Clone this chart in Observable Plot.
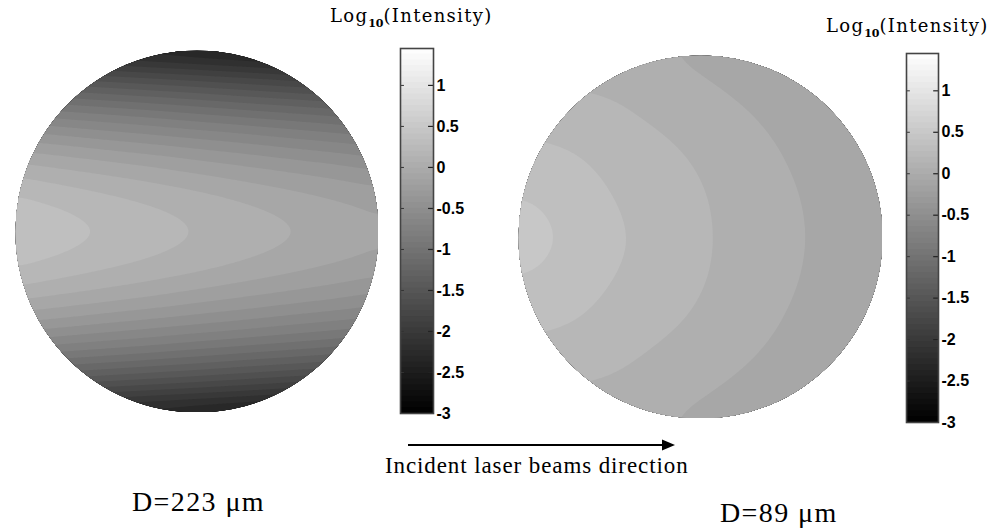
<!DOCTYPE html>
<html>
<head>
<meta charset="utf-8">
<script src="https://cdn.jsdelivr.net/npm/d3@7"></script>
<script src="https://cdn.jsdelivr.net/npm/@observablehq/plot@0.6"></script>
<style>
  html, body { margin: 0; padding: 0; background: #fff; }
  #page { position: relative; width: 1006px; height: 529px; overflow: hidden; background: #fff; }
  .abs { position: absolute; }
  #overlay { position: absolute; left: 0; top: 0; pointer-events: none; }
  .serif { font-family: "Liberation Serif", "Times New Roman", Times, serif; }
  .wide { font-family: "DejaVu Serif", serif; }
  .cbl text { font-family: "Liberation Sans", Arial, Helvetica, sans-serif !important; font-weight: bold; }
</style>
</head>
<body>
<div id="page"></div>
<script>
// ---------------- DATA ----------------
// log10(intensity) samples, columns x = -1 .. 1 step 0.25 (beam direction to the right)
const gridX = [-1, -0.75, -0.5, -0.25, 0, 0.25, 0.5, 0.75, 1];

// Left sphere, D = 223 µm : rows y = +1 .. -1 step 0.125
const leftRowsY = [1, 0.875, 0.75, 0.625, 0.5, 0.375, 0.25, 0.125, 0, -0.125, -0.25, -0.375, -0.5, -0.625, -0.75, -0.875, -1];
const leftRows = [
  [-2.15, -2.21, -2.28, -2.34, -2.40, -2.46, -2.53, -2.59, -2.65],
  [-1.54, -1.60, -1.67, -1.73, -1.79, -1.85, -1.92, -1.98, -2.04],
  [-1.01, -1.08, -1.14, -1.20, -1.26, -1.33, -1.39, -1.45, -1.51],
  [-0.57, -0.63, -0.69, -0.75, -0.82, -0.88, -0.94, -1.00, -1.07],
  [-0.20, -0.26, -0.33, -0.39, -0.45, -0.51, -0.58, -0.64, -0.70],
  [ 0.08,  0.02, -0.04, -0.10, -0.17, -0.23, -0.29, -0.35, -0.42],
  [ 0.29,  0.22,  0.16,  0.10,  0.04, -0.03, -0.09, -0.15, -0.21],
  [ 0.41,  0.35,  0.28,  0.22,  0.16,  0.10,  0.03, -0.03, -0.09],
  [ 0.45,  0.39,  0.33,  0.26,  0.20,  0.14,  0.08,  0.01, -0.05],
  [ 0.41,  0.35,  0.28,  0.22,  0.16,  0.10,  0.03, -0.03, -0.09],
  [ 0.29,  0.22,  0.16,  0.10,  0.04, -0.03, -0.09, -0.15, -0.21],
  [ 0.08,  0.02, -0.04, -0.10, -0.17, -0.23, -0.29, -0.35, -0.42],
  [-0.20, -0.26, -0.33, -0.39, -0.45, -0.51, -0.58, -0.64, -0.70],
  [-0.57, -0.63, -0.69, -0.75, -0.82, -0.88, -0.94, -1.00, -1.07],
  [-1.01, -1.08, -1.14, -1.20, -1.26, -1.33, -1.39, -1.45, -1.51],
  [-1.54, -1.60, -1.67, -1.73, -1.79, -1.85, -1.92, -1.98, -2.04],
  [-2.15, -2.21, -2.28, -2.34, -2.40, -2.46, -2.53, -2.59, -2.65]
];

// Right sphere, D = 89 µm : rows y = +1 .. -1 step 0.25
const rightRowsY = [1, 0.75, 0.5, 0.25, 0, -0.25, -0.5, -0.75, -1];
const rightRows = [
  [0.15, 0.13, 0.10, 0.06, 0.03, -0.01, -0.05, -0.10, -0.16],
  [0.25, 0.23, 0.21, 0.15, 0.10,  0.05,  0.00, -0.05, -0.12],
  [0.36, 0.34, 0.29, 0.23, 0.17,  0.11,  0.04, -0.02, -0.08],
  [0.47, 0.41, 0.34, 0.28, 0.21,  0.14,  0.07,  0.01, -0.06],
  [0.58, 0.465, 0.37, 0.30, 0.22, 0.15,  0.08,  0.02, -0.06],
  [0.47, 0.41, 0.34, 0.28, 0.21,  0.14,  0.07,  0.01, -0.06],
  [0.36, 0.34, 0.29, 0.23, 0.17,  0.11,  0.04, -0.02, -0.08],
  [0.25, 0.23, 0.21, 0.15, 0.10,  0.05,  0.00, -0.05, -0.12],
  [0.15, 0.13, 0.10, 0.06, 0.03, -0.01, -0.05, -0.10, -0.16]
];

const colorDomain = [-3, 1.45];                       // colorbar limits
const colorbarTicks = [1, 0.5, 0, -0.5, -1, -1.5, -2, -2.5, -3];
const colorbarTitle = ["Log", "10", "(Intensity)"];
const panelLabels = ["D=223 \u03bcm", "D=89 \u03bcm"];
const directionLabel = "Incident laser beams direction";

// ---------------- RENDERING ----------------
const page = document.getElementById("page");
const colorScale = { type: "linear", domain: colorDomain, range: ["black", "white"] };
const nLevels = 32;                                    // visible colour bands
const bandStep = (colorDomain[1] - colorDomain[0]) / nLevels;
const thresholds = d3.range(nLevels + 1).map(i => colorDomain[0] + i * bandStep);

function toPoints(rows, rowsY) {
  const pts = [];
  rows.forEach((row, i) => row.forEach((v, j) => pts.push({ x: gridX[j], y: rowsY[i], v })));
  return pts;
}

function place(node, left, top) {
  const d = document.createElement("div");
  d.className = "abs";
  d.style.left = left + "px";
  d.style.top = top + "px";
  d.appendChild(node);
  page.appendChild(d);
}

function sphere(rows, rowsY, left, top, w, h, id, pixelSize, blur) {
  const plot = Plot.plot({
    width: w, height: h, margin: 0,
    x: { domain: [-1, 1], axis: null },
    y: { domain: [-1, 1], axis: null },
    color: colorScale,
    marks: [
      Plot.contour(toPoints(rows, rowsY), {
        x: "x", y: "y", fill: "v",
        interpolate: "barycentric", pixelSize, blur,
        stroke: "none", thresholds
      })
    ]
  });
  const xs = plot.scale("x"), ys = plot.scale("y");
  const cx = xs.apply(0), cy = ys.apply(0);
  const rx = Math.abs(xs.apply(1) - cx), ry = Math.abs(ys.apply(1) - cy);
  const svg = d3.select(plot);
  svg.insert("defs", ":first-child").append("clipPath").attr("id", id)
     .append("ellipse").attr("cx", cx).attr("cy", cy).attr("rx", rx).attr("ry", ry);
  svg.selectAll("g[aria-label='contour']").attr("clip-path", `url(#${id})`);
  plot.style.background = "transparent";
  place(plot, left, top);
}

function colorbar(left, top, barW, barH) {
  const mT = 10, mB = 10, mL = 2, mR = 48;
  const levels = d3.range(64).map(i => colorDomain[0] + i * (colorDomain[1] - colorDomain[0]) / 64);
  const st = (colorDomain[1] - colorDomain[0]) / 64;
  const plot = Plot.plot({
    width: barW + mL + mR, height: barH + mT + mB,
    marginTop: mT, marginBottom: mB, marginLeft: mL, marginRight: mR,
    x: { domain: [0, 1], axis: null },
    y: { domain: colorDomain, axis: null },
    color: colorScale,
    marks: [
      Plot.rect(levels, { x1: 0, x2: 1, y1: d => d, y2: d => Math.min(d + st * 1.15, colorDomain[1]), fill: d => d + st / 2 }),
      Plot.ruleY(colorbarTicks.filter(t => t > colorDomain[0]), { x1: 0, x2: 0.12, stroke: "#333", strokeWidth: 1 }),
      Plot.ruleY(colorbarTicks.filter(t => t > colorDomain[0]), { x1: 0.85, x2: 1, stroke: "#222", strokeWidth: 1.2 }),
      Plot.frame({ stroke: "#444", strokeWidth: 1.6 }),
      Plot.axisY(colorbarTicks, {
        anchor: "right", tickSize: 0, tickPadding: 3, label: null,
        tickFormat: d => String(d),
        fontSize: 16, fill: "#000"
      })
    ]
  });
  plot.style.background = "transparent";
  plot.style.overflow = "visible";
  plot.classList.add("cbl");
  place(plot, left - mL, top - mT);
}

sphere(leftRows, leftRowsY, 15, 50, 363, 362, "clipLeft", 2, 4);
sphere(rightRows, rightRowsY, 518, 55, 364, 363, "clipRight", 3, 5);
colorbar(400, 48, 33, 365);
colorbar(906, 53, 32, 369);

// ---------------- ANNOTATIONS ----------------
const ov = d3.select(page).append("svg").attr("id", "overlay")
  .attr("width", 1006).attr("height", 529);

function title(x, y) {
  const t = ov.append("text").attr("class", "wide").attr("x", x).attr("y", y)
    .attr("font-size", 18).attr("letter-spacing", 1.3).attr("fill", "#000");
  t.append("tspan").text(colorbarTitle[0]);
  t.append("tspan").attr("dy", 5).attr("font-size", 11).attr("font-weight", "bold").attr("letter-spacing", 0).text(colorbarTitle[1]);
  t.append("tspan").attr("dy", -5).text(colorbarTitle[2]);
}
title(330, 22);
title(826, 32);

// arrow
ov.append("line").attr("x1", 408).attr("y1", 445).attr("x2", 664).attr("y2", 445)
  .attr("stroke", "#000").attr("stroke-width", 2.2);
ov.append("path").attr("d", "M662,439.5L675,445L662,450.5Z").attr("fill", "#000");

ov.append("text").attr("class", "serif").attr("x", 385).attr("y", 473)
  .attr("font-size", 23).attr("letter-spacing", 0.9).attr("fill", "#000").text(directionLabel);

ov.append("text").attr("class", "serif").attr("x", 132).attr("y", 511)
  .attr("font-size", 28).attr("letter-spacing", 1.4).attr("fill", "#000").text(panelLabels[0]);
ov.append("text").attr("class", "serif").attr("x", 720).attr("y", 522)
  .attr("font-size", 28).attr("letter-spacing", 1.4).attr("fill", "#000").text(panelLabels[1]);
</script>
</body>
</html>
